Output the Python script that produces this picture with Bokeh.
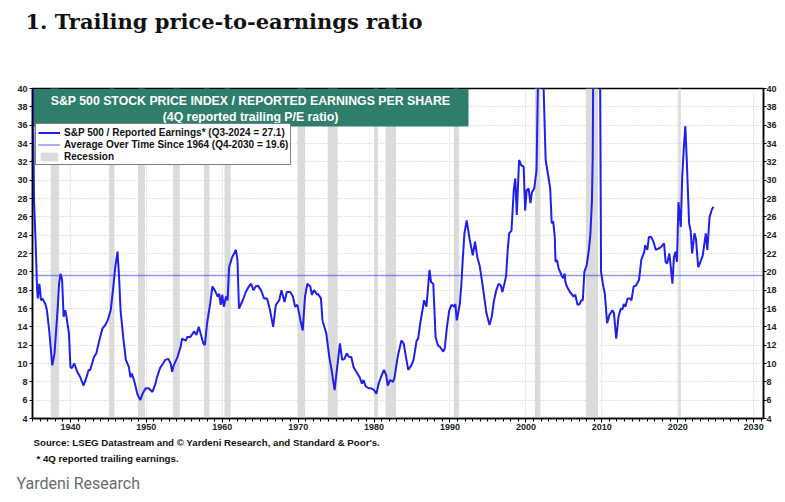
from bokeh.plotting import figure
from bokeh.models import (Range1d, LinearAxis, FixedTicker, Legend, LegendItem,
                          BoxAnnotation, Label, Title)
from bokeh.embed import file_html
from bokeh.resources import INLINE

# ---------------- data ----------------
pe_years = [1935.0, 1935.2, 1935.4, 1935.6, 1935.7, 1935.9, 1936.0, 1936.1, 1936.3, 1936.7,
            1936.9, 1937.2, 1937.6, 1937.9, 1938.3, 1938.5, 1938.7, 1938.9, 1939.1, 1939.3,
            1939.4, 1939.8, 1940.0, 1940.2, 1940.5, 1940.9, 1941.3, 1941.7, 1942.0, 1942.4,
            1942.6, 1943.1, 1943.4, 1943.8, 1944.2, 1944.6, 1944.9, 1945.3, 1945.6, 1945.9,
            1946.2, 1946.4, 1946.6, 1947.0, 1947.3, 1947.7, 1947.9, 1948.1, 1948.5, 1948.8,
            1949.2, 1949.5, 1949.9, 1950.3, 1950.8, 1951.2, 1951.4, 1951.8, 1952.2, 1952.5,
            1952.9, 1953.2, 1953.4, 1953.6, 1954.1, 1954.5, 1954.7, 1955.2, 1955.4, 1955.8,
            1956.3, 1956.6, 1956.9, 1957.2, 1957.5, 1957.7, 1958.0, 1958.4, 1958.7, 1959.0,
            1959.4, 1959.6, 1959.8, 1960.0, 1960.2, 1960.5, 1960.7, 1960.9, 1961.3, 1961.8,
            1962.0, 1962.2, 1962.7, 1963.1, 1963.5, 1963.8, 1964.1, 1964.4, 1964.7, 1965.1,
            1965.5, 1965.9, 1966.3, 1966.7, 1967.06, 1967.5, 1967.8, 1968.2, 1968.5, 1968.95,
            1969.3, 1969.6, 1969.9, 1970.3, 1970.6, 1970.9, 1971.2, 1971.6, 1971.8, 1972.1,
            1972.5, 1972.6, 1973.0, 1973.2, 1973.7, 1974.1, 1974.4, 1974.8, 1975.1, 1975.5,
            1975.8, 1976.1, 1976.4, 1976.7, 1977.0, 1977.3, 1977.8, 1978.1, 1978.4, 1978.6,
            1978.9, 1979.3, 1979.6, 1980.0, 1980.3, 1980.6, 1980.9, 1981.3, 1981.6, 1981.8,
            1982.1, 1982.5, 1982.7, 1983.1, 1983.6, 1983.9, 1984.2, 1984.5, 1984.9, 1985.2,
            1985.6, 1985.8, 1986.1, 1986.6, 1986.9, 1987.3, 1987.5, 1987.8, 1988.1, 1988.4,
            1988.7, 1989.1, 1989.3, 1989.6, 1989.9, 1990.2, 1990.6, 1990.7, 1990.9, 1991.3,
            1991.5, 1991.7, 1991.9, 1992.2, 1992.6, 1993.0, 1993.3, 1993.6, 1993.9, 1994.2,
            1994.5, 1994.8, 1995.2, 1995.5, 1995.8, 1996.1, 1996.4, 1996.7, 1996.9, 1997.2,
            1997.4, 1997.6, 1997.8, 1998.1, 1998.4, 1998.6, 1998.8, 1999.1, 1999.4, 1999.7,
            1999.9, 2000.1, 2000.35, 2000.6, 2000.8, 2001.1, 2001.4, 2001.5, 2001.7, 2002.0,
            2002.3, 2002.6, 2002.9, 2003.2, 2003.4, 2003.6, 2003.8, 2003.9, 2004.1, 2004.3,
            2004.7, 2004.9, 2005.1, 2005.2, 2005.4, 2005.8, 2006.1, 2006.3, 2006.5, 2006.8,
            2007.1, 2007.3, 2007.5, 2007.7, 2008.0, 2008.3, 2008.5, 2008.7, 2008.8, 2009.0,
            2009.4, 2009.75, 2009.9, 2010.2, 2010.4, 2010.7, 2011.0, 2011.4, 2011.6, 2011.9,
            2012.2, 2012.5, 2012.7, 2012.9, 2013.1, 2013.4, 2013.7, 2013.9, 2014.2, 2014.5,
            2014.9, 2015.2, 2015.6, 2015.7, 2016.0, 2016.2, 2016.5, 2016.8, 2017.1, 2017.4,
            2017.8, 2018.2, 2018.4, 2018.6, 2018.9, 2019.1, 2019.3, 2019.5, 2019.7, 2019.9,
            2020.1, 2020.4, 2020.6, 2020.8, 2021.0, 2021.2, 2021.5, 2021.7, 2021.9, 2022.2,
            2022.4, 2022.7, 2023.0, 2023.3, 2023.7, 2023.9, 2024.2, 2024.5, 2024.7]
pe_values = [46.0, 27.8, 23.5, 18.2, 17.1, 18.7, 18.0, 16.9, 17.1, 16.5,
             15.8, 13.6, 9.8, 11.1, 15.8, 18.7, 19.8, 19.1, 15.1, 15.8,
             15.5, 13.3, 9.6, 9.5, 10.0, 9.1, 8.5, 7.6, 8.2, 9.3,
             9.3, 10.7, 11.1, 12.5, 13.8, 14.2, 14.7, 15.8, 18.0, 20.5,
             22.2, 19.5, 15.8, 12.5, 10.4, 9.6, 8.5, 8.9, 7.8, 6.7,
             6.0, 6.7, 7.3, 7.3, 6.9, 7.8, 8.5, 9.5, 10.0, 10.4,
             10.5, 10.0, 9.1, 9.8, 10.7, 11.8, 12.7, 12.5, 12.9, 12.9,
             13.5, 13.1, 14.0, 13.1, 12.2, 12.0, 14.4, 16.5, 18.4, 18.0,
             17.3, 17.6, 16.4, 17.5, 16.2, 17.3, 16.9, 20.5, 21.6, 22.4,
             21.3, 16.0, 16.9, 17.8, 18.4, 18.7, 18.0, 18.4, 18.5, 18.0,
             17.1, 17.1, 15.8, 14.0, 16.4, 16.9, 18.0, 16.7, 17.8, 17.8,
             17.3, 16.2, 16.4, 14.7, 13.6, 17.3, 18.7, 18.4, 17.5, 18.0,
             17.5, 17.6, 17.1, 14.7, 13.3, 10.7, 9.3, 7.1, 9.3, 12.2,
             10.4, 10.5, 11.1, 10.7, 10.7, 9.6, 8.9, 8.5, 7.8, 8.2,
             7.5, 7.3, 7.3, 7.1, 6.7, 7.8, 8.5, 9.3, 8.7, 7.6,
             8.2, 8.0, 8.5, 10.7, 12.5, 12.2, 10.7, 9.3, 9.8, 10.4,
             12.5, 12.7, 14.5, 16.9, 16.2, 20.2, 18.9, 18.7, 12.9, 12.0,
             11.8, 11.3, 11.6, 14.0, 15.8, 16.4, 16.2, 16.5, 14.7, 16.5,
             18.7, 21.6, 24.2, 25.6, 23.5, 21.8, 23.3, 21.6, 20.7, 19.1,
             17.3, 15.5, 14.2, 15.1, 16.9, 18.0, 18.7, 18.5, 17.8, 18.8,
             19.6, 22.4, 24.2, 24.5, 28.9, 30.2, 26.2, 32.2, 31.6, 31.5,
             26.7, 28.9, 29.1, 27.5, 28.7, 29.1, 31.1, 36.2, 46.0, 46.5,
             41.0, 32.2, 30.7, 29.1, 25.3, 25.5, 23.8, 21.1, 21.3, 20.4,
             19.6, 19.3, 19.8, 18.9, 18.4, 17.8, 17.5, 17.3, 17.5, 16.4,
             16.5, 16.9, 16.9, 20.0, 20.7, 22.4, 24.2, 27.8, 32.5, 60.0,
             120.0, 45.0, 20.0, 18.4, 17.6, 14.4, 15.3, 15.8, 15.5, 12.7,
             15.1, 16.0, 15.9, 16.5, 16.2, 17.1, 17.1, 16.9, 18.4, 18.5,
             19.1, 21.3, 22.2, 22.9, 22.4, 23.8, 23.8, 23.3, 22.4, 22.5,
             22.7, 23.1, 21.1, 20.9, 22.0, 20.4, 18.7, 21.6, 22.2, 21.1,
             27.6, 24.9, 30.5, 33.5, 35.9, 32.0, 25.3, 24.5, 22.0, 24.2,
             23.6, 20.5, 21.1, 21.8, 24.2, 22.4, 26.0, 26.8, 27.1]

avg_value = 19.6

rec_start = [1937.4, 1945.1, 1948.9, 1953.5, 1957.6, 1960.3, 1969.9, 1973.9,
             1980.0, 1981.5, 1990.5, 2001.2, 2007.9, 2020.1]
rec_end = [1938.5, 1945.8, 1949.8, 1954.4, 1958.3, 1961.1, 1970.9, 1975.2,
           1980.5, 1982.9, 1991.2, 2001.9, 2009.5, 2020.4]

y_ticks = list(range(4, 41, 2))
x_ticks = list(range(1940, 2031, 10))
x_minor = list(range(1935, 2032))

# ---------------- layout ----------------
X0, X1 = 1935.0, 2031.3
Y0, Y1 = 4.0, 40.0
FL, FR, FT, FB = 32, 763, 88, 419          # frame edges in canvas pixels
W, H = 782, 500


def dx(cx):
    return X0 + (cx - FL) * (X1 - X0) / (FR - FL)


def dy(cy):
    return Y0 + (FB - cy) * (Y1 - Y0) / (FB - FT)


p = figure(width=W, height=H, output_backend="svg", toolbar_location=None,
           x_range=Range1d(X0, X1), y_range=Range1d(Y0, Y1),
           min_border_left=FL, min_border_right=W - FR,
           min_border_top=FT, min_border_bottom=H - FB,
           background_fill_color="white", border_fill_color="white")
p.outline_line_color = "black"
p.outline_line_width = 1.5

FONT = "Liberation Sans"

# page title (outermost in the top panel) + an empty spacer title next to the frame
p.title.text = "1. Trailing price-to-earnings ratio"
p.title.align = "left"
p.title.offset = -7
p.title.text_font = "DejaVu Serif"
p.title.text_font_style = "bold"
p.title.text_font_size = "21px"
p.title.text_color = "#111111"
p.title.standoff = 12
p.add_layout(Title(text=" ", text_font_size="10px", standoff=36), "above")

# axes
for ax in (p.xaxis[0], p.yaxis[0]):
    ax.axis_line_color = "black"
    ax.axis_line_width = 1.5
    ax.major_tick_line_color = "black"
    ax.minor_tick_line_color = "black"
    ax.major_label_text_font = FONT
    ax.major_label_text_font_style = "bold"
    ax.major_label_text_font_size = "9px"
    ax.major_label_text_color = "#222222"

p.yaxis[0].ticker = FixedTicker(ticks=y_ticks)
p.yaxis[0].major_tick_out = 3
p.yaxis[0].major_tick_in = 0
p.yaxis[0].major_label_standoff = 2

p.xaxis[0].ticker = FixedTicker(ticks=x_ticks, minor_ticks=x_minor)
p.xaxis[0].major_tick_out = 4
p.xaxis[0].major_tick_in = 0
p.xaxis[0].minor_tick_out = 3
p.xaxis[0].minor_tick_in = 0
p.xaxis[0].major_label_standoff = 1

ry = LinearAxis(ticker=FixedTicker(ticks=y_ticks))
ry.axis_line_color = "black"
ry.axis_line_width = 1.5
ry.major_tick_out = 3
ry.major_tick_in = 0
ry.major_label_standoff = 0
ry.major_label_text_font = FONT
ry.major_label_text_font_style = "bold"
ry.major_label_text_font_size = "9px"
ry.major_label_text_color = "#222222"
p.add_layout(ry, "right")

# notes below the chart
notes = [
    ("Source: LSEG Datastream and \u00a9 Yardeni Research, and Standard & Poor's.", 1, 5, FONT, "bold", "9.7px", "#111111"),
    ("* 4Q reported trailing earnings.", 4, 1, FONT, "bold", "9.7px", "#111111"),
    ("Yardeni Research", -16, 15, "Roboto", "normal", "16px", "#6b6b6b"),
]
for txt, off, so, fnt, sty, sz, col in notes:
    p.add_layout(Title(text=txt, align="left", offset=off, standoff=so, text_font=fnt,
                       text_font_style=sty, text_font_size=sz, text_color=col), "below")

# grids
p.ygrid.ticker = FixedTicker(ticks=y_ticks)
p.ygrid.grid_line_color = "#c8c8c8"
p.ygrid.grid_line_dash = "1 2"
p.ygrid.grid_line_width = 1
p.xgrid.grid_line_color = "#d8d8d8"
p.xgrid.grid_line_dash = "1 1"
p.xgrid.grid_line_width = 1

# recessions
rec = p.quad(left=rec_start, right=rec_end, bottom=Y0, top=Y1,
             fill_color="#dbdbdb", line_color=None)

# average line
avg = p.line([X0, X1], [avg_value, avg_value], line_color="#2a2aff",
             line_width=1.3, line_dash="1 1")

# P/E line
pe = p.line(pe_years, pe_values, line_color="#1f1fee", line_width=2)

# title box
p.add_layout(BoxAnnotation(left=dx(33.5), right=dx(468), top=dy(88.5), bottom=dy(126),
                           fill_color="#2f7e6d", fill_alpha=1, line_color=None))
p.add_layout(Label(x=dx(250), y=dy(100.5), text="S&P 500 STOCK PRICE INDEX / REPORTED EARNINGS PER SHARE",
                   text_align="center", text_baseline="middle", text_color="white",
                   text_font=FONT, text_font_style="bold", text_font_size="12.3px"))
p.add_layout(Label(x=dx(250), y=dy(116.5), text="(4Q reported trailing P/E ratio)",
                   text_align="center", text_baseline="middle", text_color="white",
                   text_font=FONT, text_font_style="bold", text_font_size="12.3px"))

# legend
legend = Legend(items=[
    LegendItem(label="S&P 500 / Reported Earnings* (Q3-2024 = 27.1)", renderers=[pe]),
    LegendItem(label="Average Over Time Since 1964 (Q4-2030 = 19.6)", renderers=[avg]),
    LegendItem(label="Recession", renderers=[rec]),
], location=(3, FB - 166))
legend.border_line_color = "black"
legend.border_line_width = 1.5
legend.background_fill_color = "white"
legend.background_fill_alpha = 1
legend.padding = 2
legend.spacing = 0
legend.margin = 0
legend.label_height = 12
legend.glyph_height = 11
legend.glyph_width = 22
legend.label_standoff = 4
legend.label_text_font = FONT
legend.label_text_font_style = "bold"
legend.label_text_font_size = "10px"
legend.label_text_color = "#111111"
legend.label_text_line_height = 1.0
p.add_layout(legend, "center")

open("out.html", "w").write(file_html(p, INLINE))
